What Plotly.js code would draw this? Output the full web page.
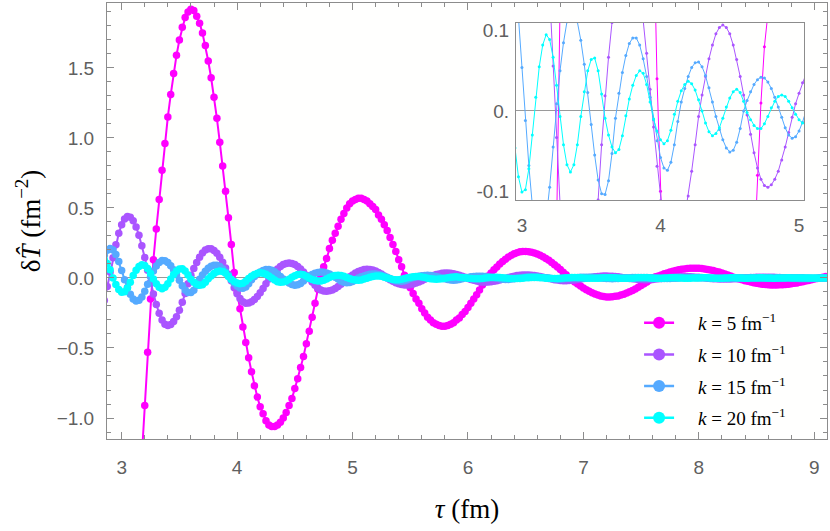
<!DOCTYPE html>
<html>
<head>
<meta charset="utf-8">
<script src="https://cdn.plot.ly/plotly-3.0.1.min.js"></script>
<style>
html,body{margin:0;padding:0;background:#ffffff;}
#chart{width:830px;height:531px;}
</style>
</head>
<body>
<div id="chart"></div>
<script>
// sampling grid of tau (fm)
const tauStart = 2.85;
const tauStep = 0.025;

// delta T-hat values (fm^-2), one value per grid point
const k5 = [
-3.45,-3.49,-3.5,-3.48,-3.42,-3.31,-3.17,-2.99,
-2.78,-2.53,-2.25,-1.95,-1.62,-1.27,-0.91,-0.53,
-0.15,0.13,0.35,0.56,0.77,0.96,1.15,1.31,
1.46,1.59,1.70,1.79,1.86,1.90,1.92,1.91,
1.87,1.82,1.75,1.66,1.55,1.43,1.29,1.14,
0.97,0.80,0.62,0.43,0.24,0.04,-0.10,-0.22,
-0.35,-0.46,-0.57,-0.67,-0.77,-0.85,-0.92,-0.97,
-1.02,-1.05,-1.06,-1.06,-1.05,-1.03,-1.00,-0.96,
-0.91,-0.86,-0.79,-0.72,-0.64,-0.56,-0.47,-0.38,
-0.28,-0.18,-0.08,0.01,0.08,0.14,0.21,0.27,
0.32,0.37,0.42,0.46,0.50,0.53,0.55,0.56,
0.57,0.57,0.56,0.55,0.53,0.51,0.49,0.45,
0.42,0.38,0.34,0.29,0.24,0.19,0.13,0.08,
0.02,-0.03,-0.07,-0.11,-0.15,-0.18,-0.22,-0.25,
-0.28,-0.30,-0.32,-0.33,-0.34,-0.345,-0.344,-0.34,
-0.33,-0.32,-0.30,-0.285,-0.26,-0.24,-0.21,-0.18,
-0.15,-0.12,-0.085,-0.05,-0.014,0.014,0.036,0.058,
0.079,0.099,0.117,0.134,0.149,0.162,0.173,0.181,
0.187,0.190,0.190,0.188,0.184,0.179,0.171,0.163,
0.152,0.140,0.126,0.111,0.095,0.078,0.060,0.041,
0.023,0.004,-0.012,-0.028,-0.043,-0.057,-0.071,-0.084,
-0.095,-0.106,-0.115,-0.122,-0.128,-0.132,-0.135,-0.135,
-0.134,-0.131,-0.128,-0.122,-0.116,-0.108,-0.099,-0.089,
-0.078,-0.067,-0.054,-0.041,-0.028,-0.014,0.000,0.008,
0.015,0.022,0.030,0.036,0.043,0.048,0.054,0.058,
0.062,0.065,0.068,0.069,0.070,0.070,0.069,0.067,
0.065,0.061,0.057,0.053,0.047,0.042,0.035,0.028,
0.021,0.014,0.006,-0.001,-0.007,-0.013,-0.019,-0.024,
-0.029,-0.034,-0.038,-0.041,-0.044,-0.047,-0.049,-0.050,
-0.050,-0.050,-0.049,-0.048,-0.046,-0.044,-0.041,-0.038,
-0.035,-0.031,-0.027,-0.022,-0.018,-0.013,-0.008,-0.003,
0.002,0.006,0.010
];

const k10 = [
-0.16,-0.06,0.042,0.144,0.238,0.319,0.381,0.422,
0.44,0.434,0.408,0.365,0.305,0.231,0.147,0.056,
-0.033,-0.115,-0.189,-0.252,-0.300,-0.330,-0.340,-0.333,
-0.311,-0.277,-0.230,-0.174,-0.111,-0.042,0.019,0.067,
0.110,0.148,0.179,0.199,0.209,0.208,0.197,0.177,
0.148,0.113,0.072,0.027,-0.020,-0.069,-0.112,-0.147,
-0.170,-0.180,-0.178,-0.169,-0.154,-0.132,-0.106,-0.075,
-0.042,-0.007,0.020,0.043,0.065,0.082,0.096,0.104,
0.107,0.104,0.096,0.082,0.064,0.043,0.020,-0.005,
-0.029,-0.052,-0.071,-0.085,-0.093,-0.095,-0.092,-0.085,
-0.075,-0.061,-0.045,-0.027,-0.008,0.009,0.022,0.035,
0.046,0.054,0.060,0.062,0.061,0.057,0.049,0.040,
0.028,0.014,0.000,-0.012,-0.024,-0.034,-0.042,-0.047,
-0.050,-0.050,-0.047,-0.043,-0.036,-0.028,-0.019,-0.009,
0.001,0.010,0.018,0.024,0.029,0.033,0.035,0.035,
0.033,0.030,0.025,0.019,0.012,0.005,-0.003,-0.010,
-0.017,-0.022,-0.026,-0.029,-0.030,-0.029,-0.027,-0.024,
-0.020,-0.015,-0.009,-0.003,0.003,0.008,0.013,0.017,
0.020,0.021,0.022,0.021,0.020,0.017,0.014,0.010,
0.006,0.001,-0.004,-0.008,-0.012,-0.015,-0.018,-0.019,
-0.019,-0.018,-0.017,-0.014,-0.011,-0.008,-0.004,0.000,
0.003,0.006,0.009,0.011,0.013,0.014,0.014,0.013,
0.012,0.010,0.008,0.005,0.002,-0.001,-0.003,-0.006,
-0.008,-0.010,-0.011,-0.012,-0.012,-0.011,-0.010,-0.008,
-0.006,-0.004,-0.002,0.001,0.003,0.005,0.007,0.008,
0.009,0.009,0.009,0.008,0.007,0.006,0.005,0.003,
0.001,-0.001,-0.003,-0.005,-0.006,-0.007,-0.008,-0.008,
-0.008,-0.007,-0.006,-0.005,-0.004,-0.002,0.000,0.001,
0.003,0.004,0.005,0.006,0.006,0.006,0.006,0.005,
0.005,0.004,0.003,0.001,0.000,-0.001,-0.002,-0.003,
-0.004,-0.005,-0.005,-0.005,-0.005,-0.004,-0.003,-0.002,
-0.001,0.000,0.001
];

const k15 = [
0.163,0.198,0.210,0.199,0.167,0.117,0.054,-0.012,
-0.068,-0.117,-0.150,-0.165,-0.159,-0.135,-0.095,-0.045,
0.009,0.050,0.085,0.111,0.124,0.123,0.111,0.088,
0.058,0.023,-0.017,-0.055,-0.086,-0.103,-0.104,-0.087,
-0.053,-0.009,0.022,0.048,0.069,0.084,0.091,0.091,
0.082,0.065,0.043,0.017,-0.011,-0.037,-0.058,-0.071,
-0.074,-0.064,-0.042,-0.013,0.011,0.028,0.043,0.054,
0.060,0.061,0.055,0.044,0.029,0.011,-0.007,-0.023,
-0.036,-0.046,-0.051,-0.049,-0.039,-0.022,0.000,0.013,
0.024,0.033,0.039,0.042,0.041,0.036,0.028,0.017,
0.005,-0.008,-0.021,-0.030,-0.034,-0.032,-0.025,-0.014,
0.000,0.008,0.015,0.021,0.026,0.028,0.028,0.025,
0.020,0.013,0.005,-0.004,-0.012,-0.019,-0.022,-0.023,
-0.019,-0.013,-0.004,0.003,0.009,0.013,0.016,0.018,
0.019,0.018,0.015,0.011,0.006,0.000,-0.006,-0.011,
-0.014,-0.016,-0.014,-0.010,-0.005,0.001,0.004,0.008,
0.010,0.012,0.013,0.012,0.011,0.008,0.005,0.002,
-0.002,-0.006,-0.009,-0.010,-0.010,-0.008,-0.005,-0.001,
0.002,0.004,0.006,0.008,0.008,0.008,0.008,0.006,
0.004,0.002,0.000,-0.003,-0.005,-0.007,-0.007,-0.006,
-0.004,-0.002,0.000,0.002,0.004,0.005,0.005,0.006,
0.005,0.005,0.003,0.002,0.000,-0.001,-0.003,-0.004,
-0.005,-0.004,-0.003,-0.002,0.000,0.001,0.002,0.003,
0.003,0.004,0.004,0.003,0.003,0.002,0.001,0.000,
-0.002,-0.003,-0.003,-0.003,-0.003,-0.002,-0.001,0.000,
0.001,0.002,0.002,0.003,0.003,0.002,0.002,0.001,
0.001,0.000,-0.001,-0.001,-0.002,-0.002,-0.002,-0.001,
-0.001,0.000,0.001,0.001,0.001,0.002,0.002,0.002,
0.001,0.001,0.000,-0.001,-0.001,-0.001,-0.001,-0.001,
-0.001,-0.001,0.000,0.000,0.001,0.001,0.001,0.001,
0.001,0.001,0.001,0.000,0.000,-0.001,-0.001,-0.001,
-0.001,-0.001,-0.001
];

const k20 = [
0.130,0.104,0.058,0.000,-0.046,-0.082,-0.101,-0.098,
-0.072,-0.030,0.017,0.055,0.082,0.095,0.089,0.067,
0.032,-0.007,-0.042,-0.067,-0.076,-0.067,-0.042,-0.007,
0.024,0.050,0.064,0.066,0.050,0.021,-0.009,-0.030,
-0.045,-0.052,-0.048,-0.031,-0.006,0.015,0.032,0.044,
0.050,0.047,0.033,0.011,-0.010,-0.025,-0.036,-0.041,
-0.037,-0.024,-0.004,0.012,0.025,0.033,0.037,0.034,
0.026,0.014,0.000,-0.015,-0.026,-0.031,-0.028,-0.021,
-0.009,0.005,0.016,0.024,0.027,0.023,0.012,-0.002,
-0.011,-0.018,-0.022,-0.022,-0.016,-0.007,0.004,0.012,
0.018,0.020,0.018,0.012,0.004,-0.004,-0.011,-0.015,
-0.016,-0.014,-0.008,-0.001,0.005,0.011,0.014,0.014,
0.012,0.006,0.000,-0.005,-0.010,-0.012,-0.012,-0.009,
-0.004,0.001,0.005,0.009,0.010,0.010,0.007,0.003,
-0.001,-0.005,-0.008,-0.009,-0.008,-0.005,-0.002,0.002,
0.005,0.007,0.008,0.006,0.004,0.001,-0.002,-0.004,
-0.006,-0.006,-0.005,-0.003,0.000,0.002,0.004,0.005,
0.005,0.004,0.002,0.000,-0.002,-0.004,-0.004,-0.004,
-0.003,-0.001,0.001,0.002,0.003,0.004,0.003,0.002,
0.001,-0.001,-0.002,-0.003,-0.003,-0.003,-0.002,0.000,
0.001,0.002,0.003,0.003,0.002,0.001,0.000,-0.001,
-0.002,-0.002,-0.002,-0.001,0.000,0.001,0.002,0.002,
0.002,0.001,0.000,-0.001,-0.001,-0.002,-0.001,-0.001,
0.000,0.001,0.001,0.001,0.001,0.000,-0.001,-0.001,
-0.001,-0.001,0.000,0.000,0.001,0.001,0.001,0.000,
0.000,-0.001,-0.001,-0.001,0.000,0.000,0.000,0.001,
0.001,0.001,0.000,0.000,-0.001,-0.001,-0.001,0.000,
0.000,0.001,0.001,0.000,0.000,0.000,-0.001,-0.001,
0.000,0.000,0.000,0.001,0.001,0.000,0.000,0.000,
-0.001,0.000,0.000,0.000,0.000,0.001,0.000,0.000,
0.000,0.000,0.000,0.000,0.000,0.000,0.000,0.000,
0.000,0.000,0.000
];

const seriesValues = [k5, k10, k15, k20];
const seriesNames = [
  '\u2002\u2002<i>k</i> = 5 fm<sup>\u22121</sup>',
  '\u2002\u2002<i>k</i> = 10 fm<sup>\u22121</sup>',
  '\u2002\u2002<i>k</i> = 15 fm<sup>\u22121</sup>',
  '\u2002\u2002<i>k</i> = 20 fm<sup>\u22121</sup>'
];
const seriesColors = ['#FF00FF', '#AA55FF', '#55AAFF', '#00FFFF'];

const insetTickVals = [-0.1, 0, 0.1];
const insetTickText = ['-0.1', '0.', '0.1'];
const insetXTickVals = [3, 4, 5];
const insetXTickText = ['3', '4', '5'];

const grid = (arr) => arr.map((_, i) => +(tauStart + i * tauStep).toFixed(3));

const traces = [];
seriesValues.forEach((vals, i) => {
  traces.push({
    x: grid(vals), y: vals, type: 'scatter', mode: 'lines+markers',
    showlegend: false,
    line: {color: seriesColors[i], width: 2},
    marker: {color: seriesColors[i], size: 7.5},
    xaxis: 'x', yaxis: 'y', hoverinfo: 'skip'
  });
});
seriesValues.forEach((vals, i) => {
  traces.push({
    x: grid(vals), y: vals, type: 'scatter', mode: 'lines+markers',
    showlegend: false,
    line: {color: seriesColors[i], width: 1},
    marker: {color: seriesColors[i], size: 3},
    xaxis: 'x2', yaxis: 'y2', hoverinfo: 'skip'
  });
});
// legend-only entries (no data points), styled like the reference legend keys
seriesNames.forEach((nm, i) => {
  traces.push({
    x: [null], y: [null], type: 'scatter', mode: 'lines+markers',
    name: nm, legendgroup: 'g' + i, showlegend: true,
    line: {color: seriesColors[i], width: 2.5},
    marker: {color: seriesColors[i], size: 12},
    xaxis: 'x', yaxis: 'y', hoverinfo: 'skip'
  });
});

const frameCol = '#8c8c8c';
const tickFont = {family: 'Liberation Sans, Arial, sans-serif', size: 19, color: '#606060'};
const titleFont = {family: 'Liberation Serif, Times New Roman, serif', size: 27, color: '#000000'};

const layout = {
  width: 830, height: 531,
  margin: {l: 107, r: 3, t: 3, b: 92, pad: 0},
  paper_bgcolor: '#ffffff',
  plot_bgcolor: '#fffffe',
  showlegend: true,
  legend: {
    x: 0.739, y: 0.31, xanchor: 'left', yanchor: 'top',
    bgcolor: 'rgba(0,0,0,0)', borderwidth: 0,
    font: {family: 'Liberation Serif, Times New Roman, serif', size: 19, color: '#000000'},
    tracegroupgap: 4
  },
  xaxis: {
    domain: [0, 1], range: [2.873, 9.11], anchor: 'y',
    showline: true, mirror: 'ticks', linecolor: frameCol, linewidth: 1,
    ticks: 'inside', ticklen: 7, tickcolor: frameCol, tickwidth: 1,
    tick0: 3, dtick: 1,
    minor: {dtick: 0.2, ticklen: 4, tickcolor: frameCol, ticks: 'inside'},
    showgrid: false, zeroline: false,
    tickfont: tickFont, ticklabelstandoff: 11,
    title: {text: '<i>τ</i> (fm)', font: titleFont, standoff: 22}
  },
  yaxis: {
    domain: [0, 1], range: [-1.15, 1.964], anchor: 'x',
    showline: true, mirror: 'ticks', linecolor: frameCol, linewidth: 1,
    ticks: 'inside', ticklen: 7, tickcolor: frameCol, tickwidth: 1,
    tick0: 0, dtick: 0.5, tickformat: '.1f',
    minor: {dtick: 0.1, ticklen: 4, tickcolor: frameCol, ticks: 'inside'},
    showgrid: false, zeroline: true, zerolinecolor: '#9a9a9a', zerolinewidth: 1,
    layer: 'above traces',
    tickfont: tickFont, ticklabelstandoff: 8,
    title: {text: 'δ<i>T̂</i> (fm<sup>\u22122</sup>)', font: titleFont, standoff: 8}
  },
  xaxis2: {
    domain: [0.568, 0.9685], range: [2.957, 5.038], anchor: 'y2',
    showline: true, mirror: true, linecolor: frameCol, linewidth: 1,
    ticks: '', tickvals: insetXTickVals, ticktext: insetXTickText,
    showgrid: false, zeroline: false,
    tickfont: tickFont, ticklabelstandoff: 8
  },
  yaxis2: {
    domain: [0.548, 0.955], range: [-0.111, 0.11], anchor: 'x2',
    showline: true, mirror: true, linecolor: frameCol, linewidth: 1,
    ticks: '', tickvals: insetTickVals, ticktext: insetTickText,
    showgrid: false, zeroline: true, zerolinecolor: '#9a9a9a', zerolinewidth: 1,
    tickfont: tickFont, ticklabelstandoff: 2
  }
};

Plotly.newPlot('chart', traces, layout, {displayModeBar: false, staticPlot: true});
</script>
</body>
</html>
